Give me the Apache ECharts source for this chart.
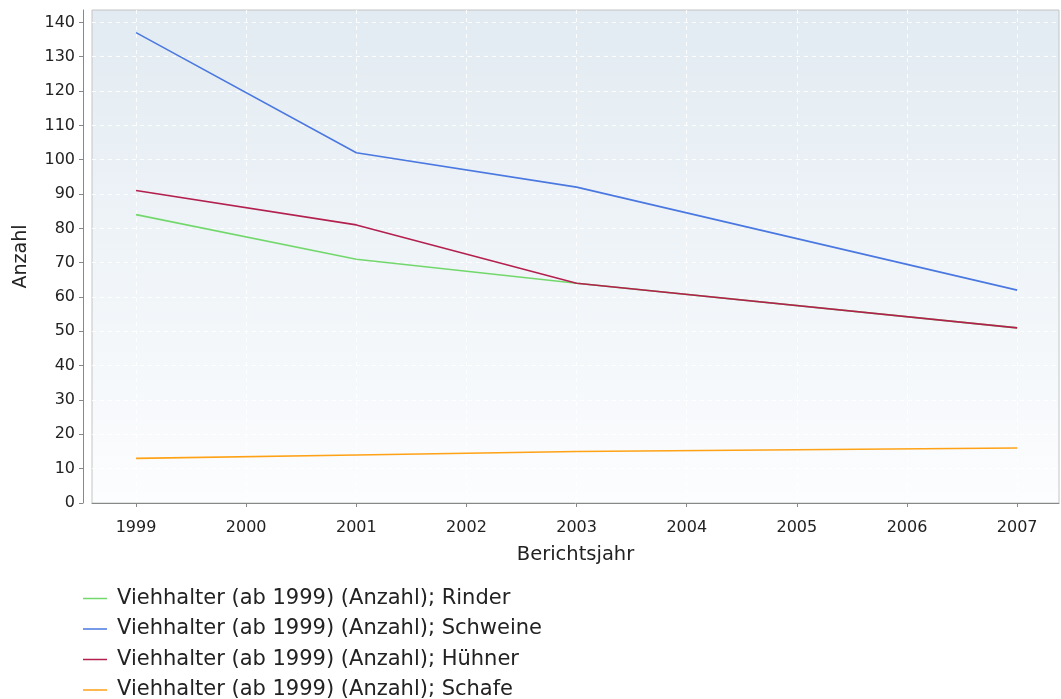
<!DOCTYPE html>
<html><head><meta charset="utf-8">
<script src="https://cdn.jsdelivr.net/npm/echarts@6/dist/echarts.min.js"></script>
<style>html,body{margin:0;padding:0;background:#fff}#c{width:1061px;height:699px}</style>
</head><body><div id="c"></div>
<script>
var years = [1999, 2001, 2003, 2007];
var rinder = [84, 71, 64, 51];
var schweine = [137, 102, 92, 62];
var huehner = [91, 81, 64, 51];
var schafe = [13, 14, 15, 16];
var xTicks = [1999, 2000, 2001, 2002, 2003, 2004, 2005, 2006, 2007];
var yTicks = [0, 10, 20, 30, 40, 50, 60, 70, 80, 90, 100, 110, 120, 130, 140];
var names = ['Viehhalter (ab 1999) (Anzahl); Rinder','Viehhalter (ab 1999) (Anzahl); Schweine','Viehhalter (ab 1999) (Anzahl); Hühner','Viehhalter (ab 1999) (Anzahl); Schafe'];
var colors = ['#72d86c', '#4a78e0', '#b3204e', '#ffa216'];
var values = [rinder, schweine, huehner, schafe];

function pairs(v){ return years.map(function(y,i){ return [y, v[i]]; }); }
var font = 'DejaVu Sans, sans-serif';
var chart = echarts.init(document.getElementById('c'), null, {renderer:'canvas'});
chart.setOption({
  animation: false,
  color: colors,
  grid: {left: 92, right: 2, top: 10, bottom: 196, show: true,
    borderColor: '#c4c4c4', borderWidth: 1,
    backgroundColor: {type:'linear', x:0, y:0, x2:0, y2:1, colorStops:[{offset:0,color:'#e2ebf2'},{offset:1,color:'#fcfdfe'}]}},
  xAxis: {type:'value', min:1998.6, max:2007.38, offset: 9,
    name:'Berichtsjahr', nameLocation:'middle', nameGap: 33,
    nameTextStyle:{fontFamily:font, fontSize:19.5, color:'#222'},
    axisLine:{show:true, lineStyle:{color:'#888', width:1}},
    axisTick:{show:true, length:4, lineStyle:{color:'#888'}, customValues: xTicks},
    axisLabel:{fontFamily:font, fontSize:16, color:'#222', margin:8, customValues: xTicks, formatter: function(v){return String(v);}},
    splitLine:{show:true, lineStyle:{color:'#ffffff', type:[4,4], width:1, opacity:0.9}}
  },
  yAxis: {type:'value', min:0, max:143.6, offset: 9,
    name:'Anzahl', nameLocation:'middle', nameGap: 52, nameRotate: 90,
    nameTextStyle:{fontFamily:font, fontSize:19, color:'#222'},
    axisLine:{show:true, lineStyle:{color:'#888', width:1}},
    axisTick:{show:true, length:4, lineStyle:{color:'#888'}, customValues: yTicks},
    axisLabel:{fontFamily:font, fontSize:16, color:'#222', margin:8, customValues: yTicks},
    splitLine:{show:true, lineStyle:{color:'#ffffff', type:[4,4], width:1, opacity:0.9}}
  },
  legend: names.map(function(n,i){
    return {orient:'vertical', left: 83, top: 587.5 + i*30.5, padding: 0, itemWidth: 24, itemHeight: 14,
      icon: 'path://M0,6.5 L24,6.5 L24,8 L0,8 Z',
      textStyle:{fontFamily:font, fontSize:21, lineHeight:22, color:'#222', padding:[0,0,0,5]},
      data: [n]};
  }),
  series: names.map(function(n,i){
    return {name:n, type:'line', data:pairs(values[i]), symbol:'none', showSymbol:false,
      lineStyle:{width:1.6, color:colors[i]}, itemStyle:{color:colors[i]}};
  })
});
</script></body></html>
